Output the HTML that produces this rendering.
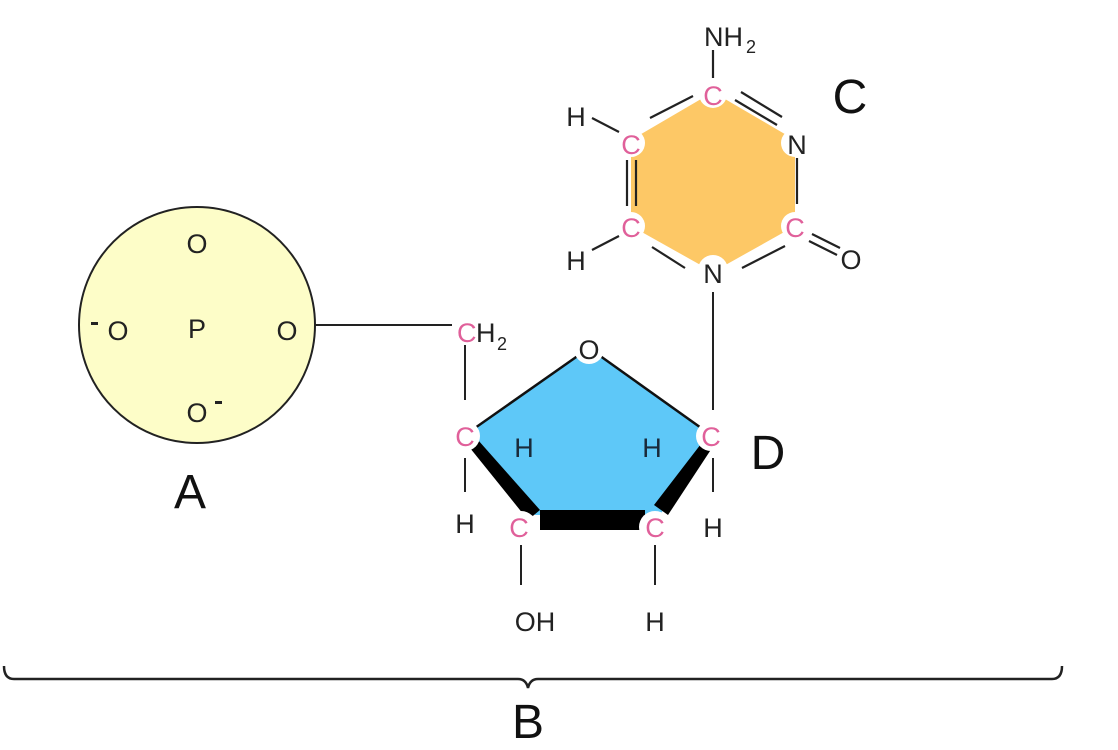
<!DOCTYPE html>
<html><head><meta charset="utf-8"><style>
html,body{margin:0;padding:0;background:#fff;}
svg{display:block;}
text{font-family:"Liberation Sans",Arial,sans-serif;}
</style></head><body>
<svg width="1118" height="750" viewBox="0 0 1118 750" xmlns="http://www.w3.org/2000/svg">
<!-- Phosphate -->
<circle cx="197" cy="325" r="118" fill="#fdfdc8" stroke="#222" stroke-width="2"/>
<g font-size="27" fill="#222" text-anchor="middle">
<text x="197" y="253">O</text>
<text x="118" y="340">O</text>
<text x="197" y="338">P</text>
<text x="287" y="340">O</text>
<text x="197" y="422">O</text>
</g>
<rect x="91" y="322" width="7" height="3" fill="#222"/>
<rect x="215" y="401" width="7" height="3" fill="#222"/>
<text x="190" y="508" font-size="48" text-anchor="middle" fill="#111">A</text>
<line x1="315" y1="325" x2="452" y2="325" stroke="#222" stroke-width="2"/>

<!-- Sugar -->
<polygon points="589,348 711,435 660,515 535,515 465,435" fill="#5ec8f8"/>
<line x1="465" y1="435" x2="589" y2="348" stroke="#111" stroke-width="2.5"/>
<line x1="589" y1="348" x2="711" y2="435" stroke="#111" stroke-width="2.5"/>
<polygon points="470,448 478,440 540,510 528,520" fill="#000"/>
<rect x="540" y="510" width="105" height="20" fill="#000"/>
<polygon points="704,440 712,448 668,515 654,505" fill="#000"/>
<g fill="#fff">
<circle cx="589" cy="349" r="15"/><circle cx="465" cy="436" r="15"/><circle cx="711" cy="436" r="15"/>
<circle cx="521" cy="527" r="16"/><circle cx="655" cy="527" r="16"/>
</g>
<g stroke="#222" stroke-width="2">
<line x1="465" y1="345" x2="465" y2="400"/>
<line x1="465" y1="458" x2="465" y2="492"/>
<line x1="521" y1="545" x2="521" y2="585"/>
<line x1="655" y1="545" x2="655" y2="585"/>
<line x1="713" y1="292" x2="713" y2="410"/>
<line x1="713" y1="458" x2="713" y2="492"/>
</g>
<g font-size="27">
<text x="457" y="342" fill="#e0609a">C</text>
<text x="476" y="342" fill="#222">H</text>
<text x="497" y="350" font-size="18" fill="#222">2</text>
</g>
<g font-size="27" text-anchor="middle">
<text x="589" y="359" fill="#222">O</text>
<text x="465" y="446" fill="#e0609a">C</text>
<text x="711" y="446" fill="#e0609a">C</text>
<text x="519" y="537" fill="#e0609a">C</text>
<text x="655" y="537" fill="#e0609a">C</text>
<text x="524" y="457" fill="#1a2a3a">H</text>
<text x="652" y="457" fill="#1a2a3a">H</text>
<text x="465" y="533" fill="#222">H</text>
<text x="713" y="537" fill="#222">H</text>
<text x="535" y="631" fill="#222">OH</text>
<text x="655" y="631" fill="#222">H</text>
</g>
<text x="768" y="469" font-size="48" text-anchor="middle" fill="#111">D</text>

<!-- Base -->
<polygon points="713,92 795,140 795,226 713,272 631,226 631,140" fill="#fdc866"/>
<g stroke="#222" stroke-width="2.2">
<line x1="650" y1="118" x2="693" y2="96"/>
<line x1="735" y1="100" x2="777" y2="125"/>
<line x1="741" y1="92" x2="782" y2="117"/>
<line x1="797" y1="158" x2="797" y2="204"/>
<line x1="785" y1="246" x2="742" y2="268"/>
<line x1="685" y1="268" x2="652" y2="247"/>
<line x1="627" y1="160" x2="627" y2="206"/>
<line x1="636" y1="160" x2="636" y2="206"/>
<line x1="713" y1="50" x2="713" y2="78"/>
<line x1="592" y1="118" x2="619" y2="132"/>
<line x1="592" y1="250" x2="619" y2="236"/>
<line x1="812" y1="234" x2="840" y2="248"/>
<line x1="809" y1="241" x2="837" y2="255"/>
</g>
<g fill="#fff">
<circle cx="713" cy="94" r="14"/><circle cx="795" cy="143" r="14"/><circle cx="795" cy="226" r="14"/>
<circle cx="713" cy="270" r="15"/><circle cx="631" cy="226" r="14"/><circle cx="631" cy="143" r="14"/>
</g>
<g font-size="27" text-anchor="middle">
<text x="713" y="105" fill="#e0609a">C</text>
<text x="797" y="154" fill="#222">N</text>
<text x="795" y="237" fill="#e0609a">C</text>
<text x="713" y="283" fill="#222">N</text>
<text x="631" y="237" fill="#e0609a">C</text>
<text x="631" y="154" fill="#e0609a">C</text>
<text x="576" y="126" fill="#222">H</text>
<text x="576" y="270" fill="#222">H</text>
<text x="851" y="269" fill="#222">O</text>
</g>
<g font-size="27" fill="#222">
<text x="704" y="46">NH</text>
<text x="746" y="53" font-size="18">2</text>
</g>
<text x="850" y="113" font-size="48" text-anchor="middle" fill="#111">C</text>

<!-- Brace -->
<path d="M4,666 Q4,679 14,679 L518,679 Q526,679 528,688 Q530,679 538,679 L1052,679 Q1062,679 1062,666" fill="none" stroke="#222" stroke-width="2.5"/>
<text x="528" y="738" font-size="48" text-anchor="middle" fill="#111">B</text>
</svg>
</body></html>
